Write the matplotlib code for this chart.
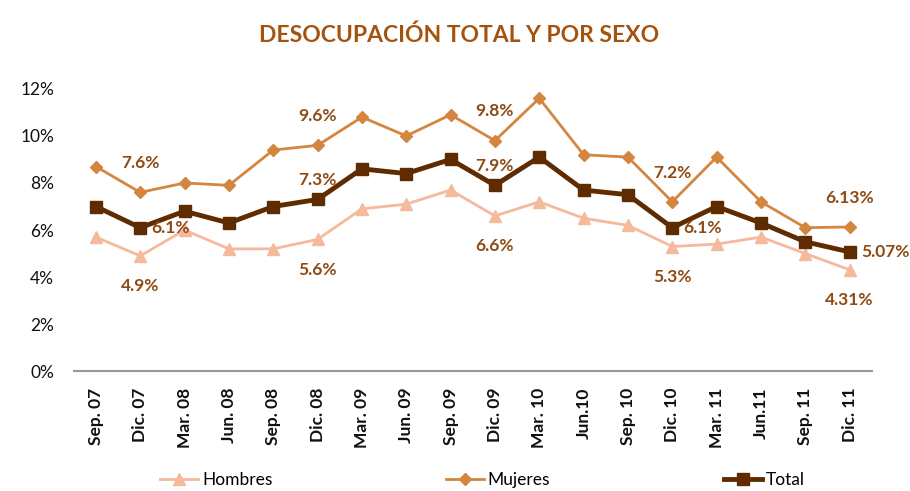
import numpy as np
import matplotlib.pyplot as plt

plt.rcParams['font.family'] = ['Lato', 'DejaVu Sans']

# Data
periodos = ['Sep. 07', 'Dic. 07', 'Mar. 08', 'Jun. 08', 'Sep. 08', 'Dic. 08', 'Mar. 09',
            'Jun. 09', 'Sep. 09', 'Dic. 09', 'Mar. 10', 'Jun.10', 'Sep. 10', 'Dic. 10',
            'Mar. 11', 'Jun.11', 'Sep. 11', 'Dic. 11']
hombres = [5.7, 4.9, 6.0, 5.2, 5.2, 5.6, 6.9, 7.1, 7.7, 6.6, 7.2, 6.5, 6.2, 5.3, 5.4, 5.7, 5.0, 4.31]
mujeres = [8.7, 7.6, 8.0, 7.9, 9.4, 9.6, 10.8, 10.0, 10.9, 9.8, 11.6, 9.2, 9.1, 7.2, 9.1, 7.2, 6.1, 6.13]
total = [7.0, 6.1, 6.8, 6.3, 7.0, 7.3, 8.6, 8.4, 9.0, 7.9, 9.1, 7.7, 7.5, 6.1, 7.0, 6.3, 5.5, 5.07]

# labelled points (index, text) per series
lab_h = {1: '4.9%', 5: '5.6%', 9: '6.6%', 13: '5.3%', 17: '4.31%'}
lab_m = {1: '7.6%', 5: '9.6%', 9: '9.8%', 13: '7.2%', 17: '6.13%'}
lab_t = {1: '6.1%', 5: '7.3%', 9: '7.9%', 13: '6.1%', 17: '5.07%'}

c_h = '#F5B99C'
c_m = '#D4853F'
c_t = '#5E2C00'
c_lab = '#8E4A12'

fig = plt.figure(figsize=(9.1, 4.91), dpi=100)
ax = fig.add_axes([0.081, 0.244, 0.877, 0.575])

x = np.arange(len(periodos))
ax.plot(x, hombres, color=c_h, lw=2, marker='^', ms=8, label='Hombres', zorder=2)
ax.plot(x, mujeres, color=c_m, lw=2, marker='D', ms=6, label='Mujeres', zorder=2)
ax.plot(x, total, color=c_t, lw=3.5, marker='s', ms=9, label='Total', zorder=3)

lab_style = dict(textcoords='offset points', va='center', fontsize=12.5,
                 fontweight='bold', color=c_lab)
for i, t in lab_m.items():
    ax.annotate(t, (x[i], mujeres[i]), xytext=(0, 21), ha='center', **lab_style)
for i, t in lab_h.items():
    ax.annotate(t, (x[i], hombres[i]), xytext=(0, -22), ha='center', **lab_style)
for i, t in lab_t.items():
    if i in (1, 13, 17):
        ax.annotate(t, (x[i], total[i]), xytext=(8, 0), ha='left', **lab_style)
    else:
        ax.annotate(t, (x[i], total[i]), xytext=(0, 14), ha='center', **lab_style)

ax.set_xlim(-0.5, len(periodos) - 0.5)
ax.set_ylim(0, 12)
ax.set_yticks(np.arange(0, 13, 2))
ax.set_yticklabels([f'{v}%' for v in range(0, 13, 2)])
ax.set_xticks(x)
ax.set_xticklabels(periodos, rotation=90, fontweight='bold')
ax.tick_params(axis='both', length=0, labelsize=12.5, colors='#111111')
ax.tick_params(axis='y', pad=14)
ax.tick_params(axis='x', pad=12)
for s in ['top', 'right', 'left']:
    ax.spines[s].set_visible(False)
ax.spines['bottom'].set_color('#999999')
ax.spines['bottom'].set_linewidth(1.5)

fig.suptitle('DESOCUPACIÓN TOTAL Y POR SEXO', x=0.505, y=0.95, fontsize=16.5,
             fontweight='bold', color='#A4530F')

fig.legend(loc='lower center', bbox_to_anchor=(0.53, -0.025), ncol=3, frameon=False,
           fontsize=12.5, columnspacing=10, handlelength=2.2, handletextpad=0.2)

fig.savefig('out.png', dpi=100)
